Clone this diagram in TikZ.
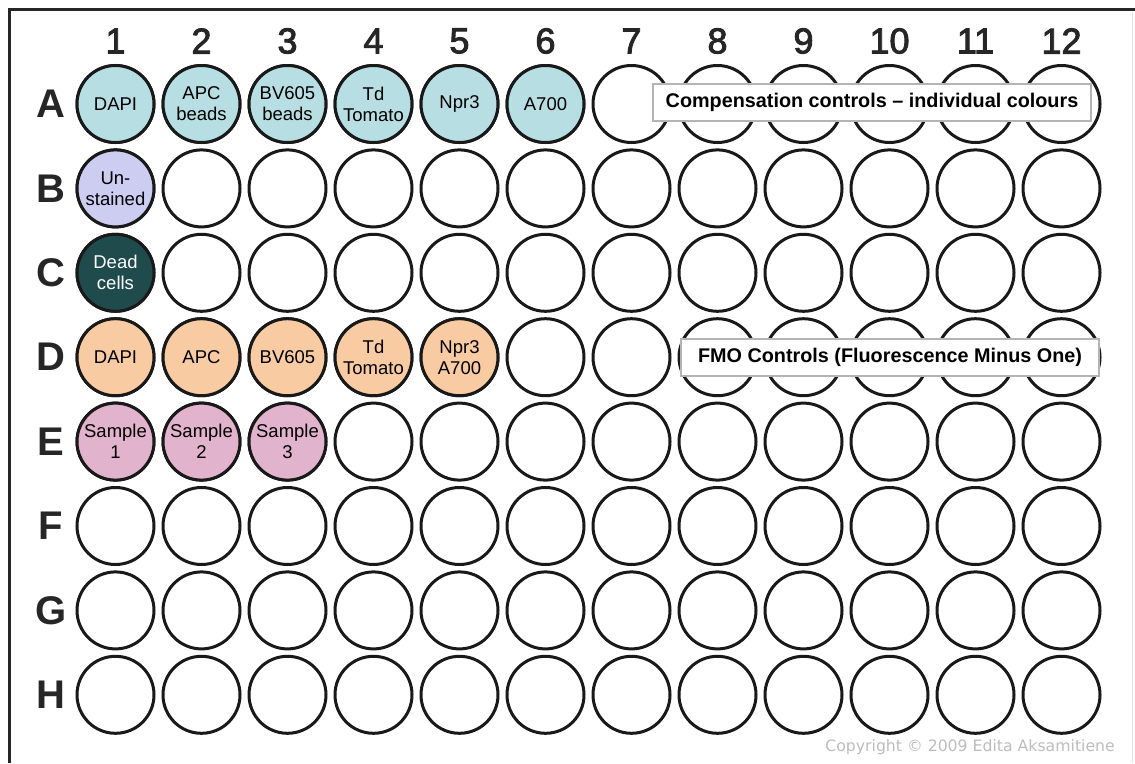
\documentclass[tikz,border=0pt]{standalone}
\usepackage{fontspec}
\setmainfont{Liberation Sans}
\newfontfamily\copyfont{DejaVu Sans}
\newcommand{\heavytext}[1]{\special{pdf:literal 2 Tr 0.9 w}#1\special{pdf:literal 0 Tr}}
\definecolor{wellA}{HTML}{B7DEE2}
\definecolor{wellB}{HTML}{CDCDF2}
\definecolor{wellC}{HTML}{1F4B4C}
\definecolor{wellD}{HTML}{F8CBA2}
\definecolor{wellE}{HTML}{E2B3CC}
\definecolor{boxgray}{HTML}{B4B4B4}
\definecolor{copygray}{HTML}{BDBDBD}
\tikzset{
  well/.style={circle, draw=black!90, line width=3pt, minimum size=77pt, inner sep=0pt, align=center, font=\fontsize{18.5}{21}\selectfont},
  colhead/.style={font=\fontsize{36}{38}\selectfont, text=black!85},
  rowhead/.style={font=\fontsize{40}{42}\selectfont\bfseries, text=black!85},
  legendbox/.style={draw=boxgray, line width=2pt, fill=white, inner sep=0pt, font=\fontsize{19.8}{22}\selectfont\bfseries, text=black}
}
\begin{document}
\begin{tikzpicture}[x=1pt, y=-1pt]
\useasboundingbox (0,0) rectangle (1135,763);
\fill[white] (0,0) rectangle (1135,763);
% frame
\coordinate (ftl) at (9,9);
\coordinate (ftr) at (1135,9);
\coordinate (fbl) at (9,763);
\draw[line width=3pt, black!85] (fbl) -- (ftl) -- (ftr);
\draw[line width=0.8pt, black!10] (1132,12) -- (1132,763);
% wells
\foreach \r [count=\ri from 0] in {A,B,C,D,E,F,G,H} {
  \node[rowhead] (row\r) at (51, {104+84.4*\ri}) {\r};
  \foreach \c in {1,...,12} {
    \node[well] (w\r\c) at ({115.5+86*(\c-1)}, {104+84.4*\ri}) {};
  }
}
\foreach \c in {1,...,12} {
  \node[colhead] (col\c) at ({115.5+86*(\c-1)}, 41) {\heavytext{\c}};
}
% filled wells
\node[well, fill=wellA] at (wA1) {DAPI};
\node[well, fill=wellA] at (wA2) {APC\\beads};
\node[well, fill=wellA] at (wA3) {BV605\\beads};
\node[well, fill=wellA] at (wA4) {Td\\Tomato};
\node[well, fill=wellA] at (wA5) {Npr3};
\node[well, fill=wellA] at (wA6) {A700};
\node[well, fill=wellB] at (wB1) {Un-\\stained};
\node[well, fill=wellC, text=white] at (wC1) {Dead\\cells};
\node[well, fill=wellD] at (wD1) {DAPI};
\node[well, fill=wellD] at (wD2) {APC};
\node[well, fill=wellD] at (wD3) {BV605};
\node[well, fill=wellD] at (wD4) {Td\\Tomato};
\node[well, fill=wellD] at (wD5) {Npr3\\A700};
\node[well, fill=wellE] at (wE1) {Sample\\1};
\node[well, fill=wellE] at (wE2) {Sample\\2};
\node[well, fill=wellE] at (wE3) {Sample\\3};
% legend boxes
\node[legendbox, minimum width=438pt, minimum height=37pt] (comp) at (872,102) {Compensation controls -- individual colours};
\node[legendbox, minimum width=418pt, minimum height=37pt] (fmo) at (890,357) {FMO Controls (Fluorescence Minus One)};
% copyright
\node[text=copygray, font=\copyfont\fontsize{15.7}{17}\selectfont, anchor=east, inner sep=0pt] (copy) at (1115,747) {Copyright © 2009 Edita Aksamitiene};
\end{tikzpicture}
\end{document}
